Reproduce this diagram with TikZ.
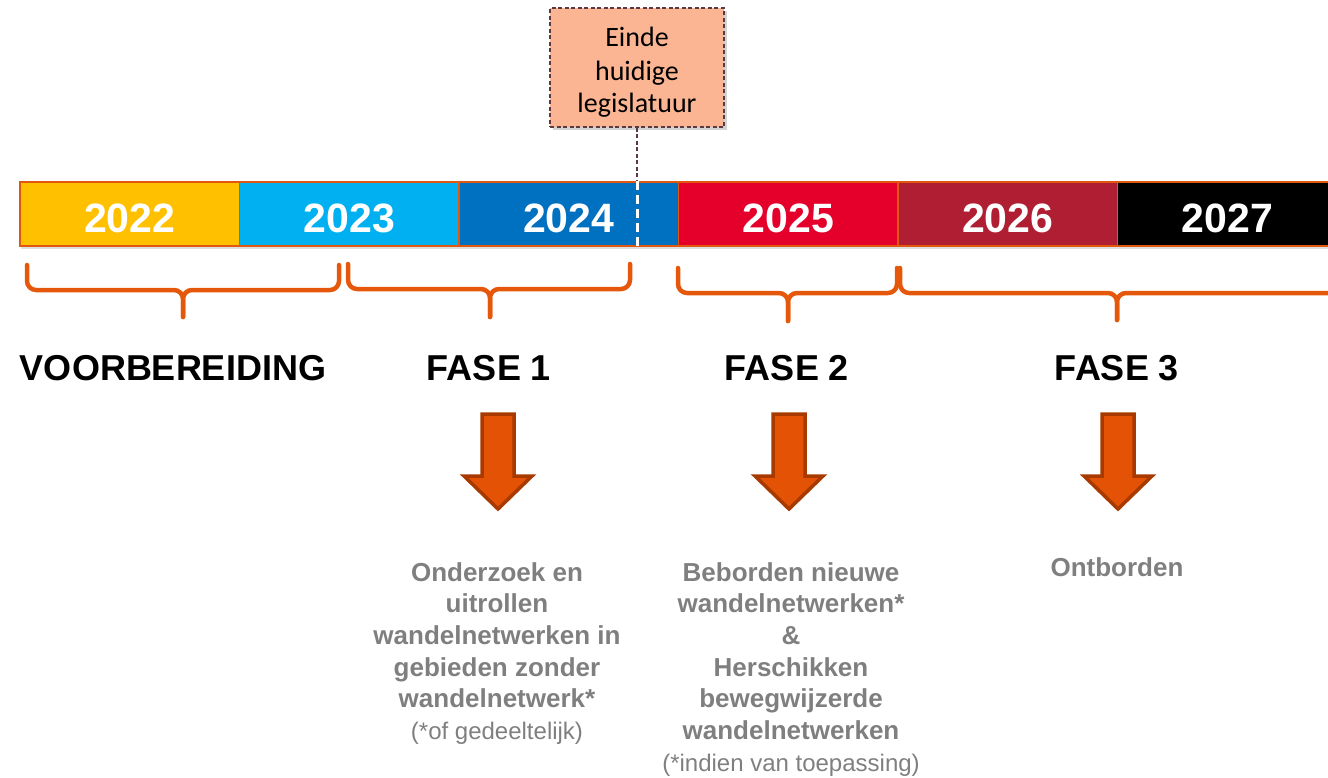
\documentclass[tikz,border=0pt]{standalone}
\usepackage{fontspec}
\setmainfont{Liberation Sans}
\newfontfamily\calibri{Carlito}
\usetikzlibrary{shadows}
\definecolor{cA}{HTML}{FFC000}
\definecolor{cB}{HTML}{00B0F0}
\definecolor{cC}{HTML}{0070C0}
\definecolor{cD}{HTML}{E4002B}
\definecolor{cE}{HTML}{AF1E32}
\definecolor{cF}{HTML}{000000}
\definecolor{edgeor}{HTML}{E0580F}
\definecolor{braceor}{HTML}{E5580C}
\definecolor{arrfill}{HTML}{E35205}
\definecolor{arredge}{HTML}{A83A00}
\definecolor{salmon}{HTML}{FBB593}
\definecolor{callbrown}{HTML}{5A3A40}
\definecolor{txtgray}{HTML}{7F7F7F}
\newcommand{\yr}[1]{\raisebox{-3.5pt}[29.4pt][0pt]{#1}}
\begin{document}
\begin{tikzpicture}[x=1pt,y=-1pt,
  yearbox/.style={draw=edgeor, line width=1.5pt, minimum width=219.5pt, minimum height=64pt,
    inner sep=0pt, text=white, font=\fontsize{41}{45}\selectfont\bfseries,
    drop shadow={opacity=0.25, shadow xshift=1pt, shadow yshift=-3pt}},
  bracestyle/.style={draw=braceor, line width=4.5pt, line cap=round, line join=round, rounded corners=9pt},
  blockarrow/.style={fill=arrfill, draw=arredge, line width=3.5pt, line join=miter},
  fasetext/.style={font=\fontsize{36}{40}\selectfont\bfseries, text=black, inner sep=0pt},
  desc/.style={font=\fontsize{26}{31.7}\selectfont\bfseries, text=txtgray, align=center, inner sep=0pt, anchor=north},
  callbox/.style={draw=callbrown, dash pattern=on 4pt off 2.5pt, line width=1.5pt, fill=salmon, minimum width=174pt, minimum height=119pt,
    align=center, font=\calibri\fontsize{28}{34}\selectfont, text=black, inner sep=0pt,
    drop shadow={opacity=0.35, shadow xshift=3pt, shadow yshift=-3pt}},
  callline/.style={draw=callbrown, dash pattern=on 4pt off 2.5pt, line width=1.5pt},
  whitedash/.style={draw=white, line width=3pt, dash pattern=on 9pt off 5pt}
]
\useasboundingbox (0,0) rectangle (1328,777);
\clip (0,0) rectangle (1328,777);

% timeline
\node[yearbox, fill=cA] (y22) at (129.75,214) {\yr{2022}};
\node[yearbox, fill=cB] (y23) at (349.25,214) {\yr{2023}};
\node[yearbox, fill=cC] (y24) at (568.75,214) {\yr{2024}};
\node[yearbox, fill=cD] (y25) at (788.25,214) {\yr{2025}};
\node[yearbox, fill=cE] (y26) at (1007.75,214) {\yr{2026}};
\node[yearbox, fill=cF] (y27) at (1227.25,214) {\yr{2027}};

% callout
\node[callbox] (call) at (637,67.5) {\rule{0pt}{28pt}Einde\\huidige\\[-2pt]legislatuur};
\coordinate (ctop) at (call.south |- y24.north);
\coordinate (cbot) at (call.south |- y24.south);
\draw[callline] (call.south) -- (ctop);
\draw[whitedash] (ctop) -- (cbot);

% braces
\foreach \xa/\xb/\cx/\ty/\my/\tip in {27/339/183/265/290/317, 348/630/490/264/289/317, 678/897/788/268/293/321, 900/1345/1117/268/293/320}{
  \draw[bracestyle] (\xa,\ty) -- (\xa,\my) -- (\cx,\my) -- (\cx,\tip);
  \draw[bracestyle] (\xb,\ty) -- (\xb,\my) -- (\cx,\my) -- (\cx,\tip);
}

% phase labels
\node[fasetext] (voor) at (173,368) {VOORBEREIDING};
\node[fasetext] (f1) at (489,368) {FASE 1};
\node[fasetext] (f2) at (787,368) {FASE 2};
\node[fasetext] (f3) at (1117,368) {FASE 3};

% block arrows
\foreach \cx in {498,789,1118}{
  \draw[blockarrow] ({\cx-16},414) -- ({\cx+16},414) -- ({\cx+16},476) -- ({\cx+34},476)
    -- (\cx,509) -- ({\cx-34},476) -- ({\cx-16},476) -- cycle;
}

% descriptions
\node[desc] (d1) at (497,562) {Onderzoek en\\uitrollen\\wandelnetwerken in\\gebieden zonder\\wandelnetwerk*\\{\mdseries\fontsize{24}{31.7}\selectfont(*of gedeeltelijk)}};
\node[desc] (d2) at (791,562) {Beborden nieuwe\\wandelnetwerken*\\\&\\Herschikken\\bewegwijzerde\\wandelnetwerken\\{\mdseries\fontsize{24}{31.7}\selectfont(*indien van toepassing)}};
\node[desc] (d3) at (1117,557) {Ontborden};
\end{tikzpicture}
\end{document}
